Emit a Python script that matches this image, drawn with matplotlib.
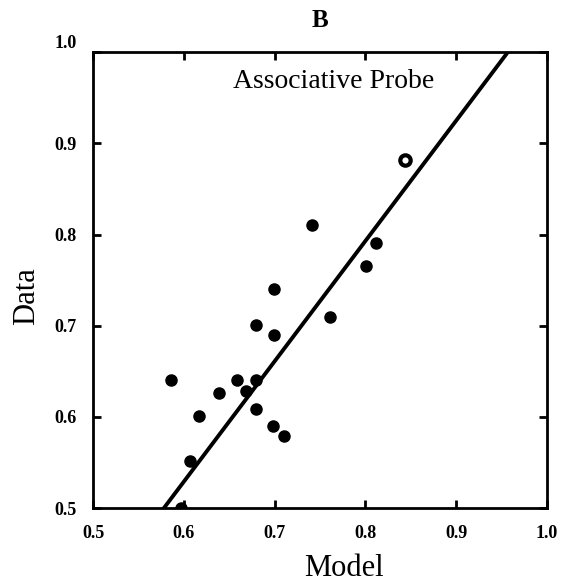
import matplotlib
matplotlib.use("Agg")
import matplotlib.pyplot as plt
import numpy as np

# model predictions vs observed data, associative probe condition
model = [0.586, 0.617, 0.639, 0.659, 0.668, 0.679, 0.679, 0.679, 0.699, 0.699,
         0.698, 0.710, 0.607, 0.741, 0.761, 0.801, 0.812, 0.597]
data = [0.640, 0.601, 0.626, 0.640, 0.628, 0.640, 0.609, 0.701, 0.740, 0.690,
        0.590, 0.579, 0.552, 0.810, 0.709, 0.765, 0.791, 0.500]
ring_model = [0.844]
ring_data = [0.882]

# fitted line
slope = 1.32
intercept = -0.263

ticks = [0.5, 0.6, 0.7, 0.8, 0.9, 1.0]
tick_labels = ["0.5", "0.6", "0.7", "0.8", "0.9", "1.0"]

plt.rcParams["font.family"] = ["Liberation Serif", "DejaVu Serif"]

fig = plt.figure(figsize=(5.71, 5.86), dpi=100)
ax = fig.add_axes([0.163, 0.133, 0.795, 0.778])

xs = np.array([0.5, 1.0])
ax.plot(xs, slope * xs + intercept, color="black", lw=2.8, solid_capstyle="butt")
ax.scatter(model, data, s=64, color="black", zorder=3)
ax.scatter(ring_model, ring_data, s=56, facecolor="white", edgecolor="black",
           linewidths=3, zorder=3)

ax.set_xlim(0.5, 1.0)
ax.set_ylim(0.5, 1.0)
ax.set_xticks(ticks)
ax.set_xticklabels(tick_labels, fontweight="bold", fontsize=13)
ax.set_yticks(ticks)
ax.set_yticklabels(tick_labels, fontweight="bold", fontsize=13)
ax.tick_params(direction="in", length=6, width=2, top=True, right=True)
ax.tick_params(axis="x", pad=12)
ax.tick_params(axis="y", pad=11.5)
# top label sits just above the corner
ax.get_yticklabels()[-1].set_verticalalignment("bottom")

for s in ax.spines.values():
    s.set_linewidth(2)

ax.set_xlabel("Model", fontsize=22)
ax.xaxis.set_label_coords(0.553, -0.1)
ax.set_ylabel("Data", fontsize=22)
ax.yaxis.set_label_coords(-0.115, 0.465)
ax.set_title("B", fontsize=18, fontweight="bold", pad=18)
ax.text(0.53, 0.935, "Associative Probe", transform=ax.transAxes, ha="center",
        va="center", fontsize=20)

plt.savefig("out.png", dpi=100)
